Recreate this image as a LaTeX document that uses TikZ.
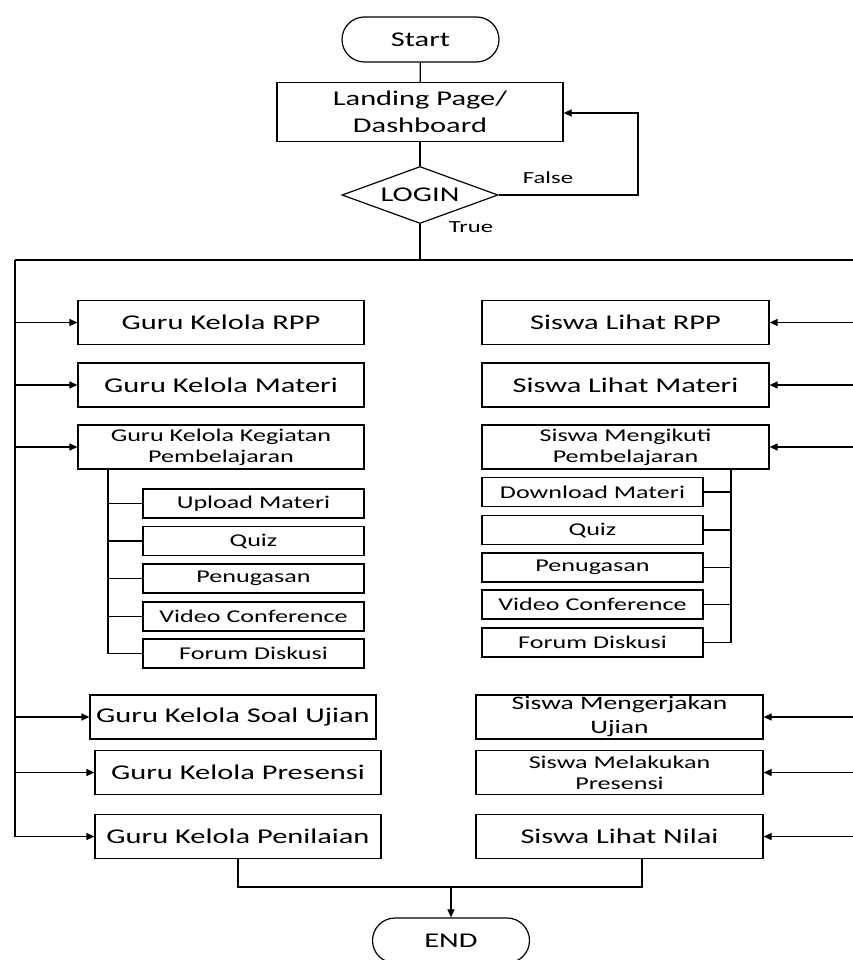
\documentclass[tikz,border=0pt]{standalone}
\usepackage{fontspec}
\setmainfont{Carlito}[FakeStretch=1.45]
\usetikzlibrary{shapes.geometric,shapes.misc,arrows.meta,calc}
\begin{document}
\begin{tikzpicture}[x=1pt,y=-1pt,
  line width=1.2pt,
  box/.style={draw, line width=1.2pt, inner sep=0pt, align=center},
  term/.style={box, rounded rectangle, minimum width=157pt, minimum height=45pt, font=\fontsize{21}{26}\selectfont},
  bigbox/.style={box, minimum width=286pt, minimum height=44pt, font=\fontsize{21}{26}\selectfont},
  twobox/.style={box, minimum width=286pt, minimum height=44pt, font=\fontsize{18}{21}\selectfont},
  subbox/.style={box, minimum width=221pt, minimum height=29pt, font=\fontsize{18}{21}\selectfont},
  lbl/.style={font=\fontsize{17}{20}\selectfont, inner sep=0pt},
  arr/.style={-{Triangle[length=8pt,width=7pt]}}
]
\useasboundingbox (0,0) rectangle (853,960);

% top part
\node[term] (start) at (420.5,39.5) {Start};
\node[box, minimum width=286pt, minimum height=59pt, font=\fontsize{21}{27}\selectfont] (landing) at (420,112) {Landing Page/\\Dashboard};
\node[box, diamond, aspect=2.75, minimum width=156pt, minimum height=57pt, font=\fontsize{21}{26}\selectfont] (login) at (420,195) {LOGIN};
\node[lbl] (false) at (548,178) {False};
\node[lbl] (true) at (471,227) {True};

\coordinate (bus) at (420,260);
\coordinate (busL) at (15,260);
\coordinate (busR) at (856,260);
\coordinate (loopR) at (638,195);

\draw (start) -- (landing);
\draw (landing) -- (login);
\draw[arr] (login.east) -- (loopR) |- (landing.east |- 0,113);
\draw (login.south) -- (bus);
\draw (busL) -- (busR);

% left column
\node[bigbox] (grpp) at (221,322.5) {Guru Kelola RPP};
\node[bigbox] (gmat) at (221,385) {Guru Kelola Materi};
\node[twobox] (gkeg) at (221,447) {Guru Kelola Kegiatan\\Pembelajaran};
\node[subbox] (gs1) at (253.5,503.5) {Upload Materi};
\node[subbox] (gs2) at (253.5,541) {Quiz};
\node[subbox] (gs3) at (253.5,578.5) {Penugasan};
\node[subbox] (gs4) at (253.5,616.5) {Video Conference};
\node[subbox] (gs5) at (253.5,653.5) {Forum Diskusi};
\node[bigbox] (gsoal) at (233,717) {Guru Kelola Soal Ujian};
\node[bigbox] (gpres) at (238,772.5) {Guru Kelola Presensi};
\node[bigbox] (gnil) at (238,836.5) {Guru Kelola Penilaian};

\coordinate (lend) at (15,836.5);
\draw (busL) -- (lend);
\foreach \n in {grpp,gmat,gkeg,gsoal,gpres,gnil}
  \draw[arr] (15,0 |- \n.west) -- (\n.west);
\coordinate (gtrunk) at (108,0);
\draw (gtrunk |- gkeg.south) -- (gtrunk |- gs5.west) -- (gs5.west);
\foreach \n in {gs1,gs2,gs3,gs4}
  \draw (gtrunk |- \n.west) -- (\n.west);

% right column
\node[bigbox, minimum width=287pt] (srpp) at (625.5,322.5) {Siswa Lihat RPP};
\node[bigbox, minimum width=287pt] (smat) at (625.5,385) {Siswa Lihat Materi};
\node[twobox, minimum width=287pt] (sikut) at (625.5,447) {Siswa Mengikuti\\Pembelajaran};
\node[subbox] (ss1) at (592.5,492) {Download Materi};
\node[subbox] (ss2) at (592.5,530) {Quiz};
\node[subbox] (ss3) at (592.5,567.5) {Penugasan};
\node[subbox] (ss4) at (592.5,604.5) {Video Conference};
\node[subbox] (ss5) at (592.5,642.5) {Forum Diskusi};
\node[twobox, minimum width=287pt, font=\fontsize{19}{24}\selectfont] (suji) at (619.5,717) {Siswa Mengerjakan\\Ujian};
\node[twobox, minimum width=287pt] (spres) at (619.5,772.5) {Siswa Melakukan\\Presensi};
\node[bigbox, minimum width=287pt] (snil) at (619.5,836.5) {Siswa Lihat Nilai};

\foreach \n in {srpp,smat,sikut,suji,spres,snil}
  \draw[arr] (856,0 |- \n.east) -- (\n.east);
\coordinate (strunk) at (731,0);
\draw (strunk |- sikut.south) -- (strunk |- ss5.east) -- (ss5.east);
\foreach \n in {ss1,ss2,ss3,ss4}
  \draw (strunk |- \n.east) -- (\n.east);

% end
\node[term] (end) at (451,940.5) {END};
\coordinate (merge) at (451,887);
\coordinate (snilb) at (642,859);
\draw (gnil.south) |- (merge) -| (snilb);
\draw[arr] (merge) -- (end.north);
\end{tikzpicture}
\end{document}
